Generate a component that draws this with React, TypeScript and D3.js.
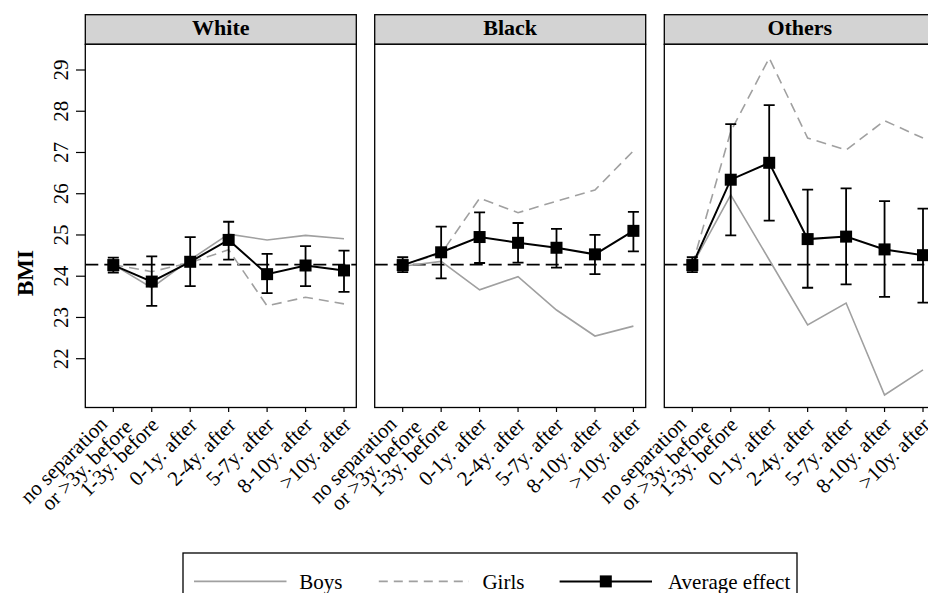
import React from "react";
import * as d3 from "d3";

const categories: string[][] = [
  ["no separation", "or >3y. before"],
  ["1-3y. before"],
  ["0-1y. after"],
  ["2-4y. after"],
  ["5-7y. after"],
  ["8-10y. after"],
  [">10y. after"],
];

const groups = ["White", "Black", "Others"];

const whiteAvg = [24.27, 23.87, 24.35, 24.88, 24.05, 24.26, 24.14];
const whiteLo = [24.09, 23.28, 23.76, 24.4, 23.59, 23.76, 23.62];
const whiteHi = [24.45, 24.48, 24.95, 25.32, 24.54, 24.73, 24.62];
const whiteBoys = [24.28, 23.72, 24.4, 25.02, 24.88, 24.99, 24.91];
const whiteGirls = [24.28, 24.11, 24.33, 24.64, 23.28, 23.49, 23.33];

const blackAvg = [24.27, 24.58, 24.95, 24.81, 24.69, 24.53, 25.1];
const blackLo = [24.1, 23.95, 24.32, 24.33, 24.21, 24.05, 24.6];
const blackHi = [24.46, 25.2, 25.55, 25.29, 25.15, 25.0, 25.56];
const blackBoys = [24.24, 24.36, 23.67, 23.99, 23.18, 22.55, 22.79];
const blackGirls = [24.27, 24.55, 25.89, 25.54, 25.82, 26.09, 27.04];

const othersAvg = [24.27, 26.34, 26.75, 24.9, 24.96, 24.65, 24.51];
const othersLo = [24.1, 24.99, 25.35, 23.72, 23.8, 23.5, 23.36];
const othersHi = [24.46, 27.69, 28.15, 26.1, 26.13, 25.82, 25.64];
const othersBoys = [24.27, 25.97, 24.4, 22.82, 23.35, 21.12, 21.73];
const othersGirls = [24.27, 27.51, 29.29, 27.35, 27.06, 27.77, 27.35];

const refValue = 24.28;
const yTicks = [22, 23, 24, 25, 26, 27, 28, 29];

const avgSeries = [whiteAvg, blackAvg, othersAvg];
const loSeries = [whiteLo, blackLo, othersLo];
const hiSeries = [whiteHi, blackHi, othersHi];
const boysSeries = [whiteBoys, blackBoys, othersBoys];
const girlsSeries = [whiteGirls, blackGirls, othersGirls];

const W = 928;
const H = 593;
const panelLefts = [85.3, 374.7, 664.3];
const panelW = 271;
const headTop = 14.7;
const plotTop = 44.3;
const plotBottom = 407.5;
const FONT = "'Liberation Serif', 'Times New Roman', serif";

const y = d3.scaleLinear().domain([22, 29]).range([358.7, 70]);

export default function App() {
  const lineGen = (xs: d3.ScaleLinear<number, number>) =>
    d3
      .line<number>()
      .x((_, i) => xs(i))
      .y((d) => y(d));

  return (
    <svg
      width={W}
      height={H}
      style={{ position: "absolute", left: 0, top: 0, background: "#fff" }}
      fontFamily={FONT}
    >
      <rect x={0} y={0} width={W} height={H} fill="#fff" />
      {groups.map((g, gi) => {
        const left = panelLefts[gi];
        const x = d3
          .scaleLinear()
          .domain([0, 6])
          .range([left + 28, left + 28 + 6 * 38.45]);
        const lg = lineGen(x);
        const avg = avgSeries[gi];
        const lo = loSeries[gi];
        const hi = hiSeries[gi];
        return (
          <g key={g}>
            <defs>
              <clipPath id={`clip${gi}`}>
                <rect x={left} y={plotTop} width={panelW} height={plotBottom - plotTop} />
              </clipPath>
            </defs>
            <rect
              x={left}
              y={headTop}
              width={panelW}
              height={plotTop - headTop}
              fill="#d3d3d3"
              stroke="#000"
              strokeWidth={1.3}
            />
            <text
              x={left + panelW / 2}
              y={35}
              textAnchor="middle"
              fontWeight="bold"
              fontSize={22}
              fill="#000"
            >
              {g}
            </text>
            <rect
              x={left}
              y={plotTop}
              width={panelW}
              height={plotBottom - plotTop}
              fill="#fff"
              stroke="#000"
              strokeWidth={1.3}
            />
            <g clipPath={`url(#clip${gi})`}>
              <line
                x1={left}
                x2={left + panelW}
                y1={y(refValue)}
                y2={y(refValue)}
                stroke="#000"
                strokeWidth={1.6}
                strokeDasharray="13,6"
              />
              <path d={lg(boysSeries[gi]) || ""} fill="none" stroke="#a0a0a0" strokeWidth={1.6} />
              <path
                d={lg(girlsSeries[gi]) || ""}
                fill="none"
                stroke="#a0a0a0"
                strokeWidth={1.6}
                strokeDasharray="10,6"
              />
              {avg.map((_, i) => (
                <g key={i} stroke="#000" strokeWidth={1.8}>
                  <line x1={x(i)} x2={x(i)} y1={y(lo[i])} y2={y(hi[i])} />
                  <line x1={x(i) - 5.5} x2={x(i) + 5.5} y1={y(lo[i])} y2={y(lo[i])} />
                  <line x1={x(i) - 5.5} x2={x(i) + 5.5} y1={y(hi[i])} y2={y(hi[i])} />
                </g>
              ))}
              <path d={lg(avg) || ""} fill="none" stroke="#000" strokeWidth={2} />
              {avg.map((v, i) => (
                <rect key={i} x={x(i) - 6} y={y(v) - 6} width={12} height={12} fill="#000" />
              ))}
            </g>
            {categories.map((c, i) => (
              <g key={i}>
                <line x1={x(i)} x2={x(i)} y1={plotBottom} y2={plotBottom + 4.5} stroke="#000" strokeWidth={1.2} />
                <g transform={`translate(${x(i) + 3},421) rotate(-45)`}>
                  {c.length === 1 ? (
                    <text textAnchor="end" fontSize={21} dy="0.35em" fill="#000">
                      {c[0]}
                    </text>
                  ) : (
                    <>
                      <text textAnchor="end" fontSize={21} x={-8.5} y={-9.9} dy="0.35em" fill="#000">
                        {c[0]}
                      </text>
                      <text textAnchor="end" fontSize={21} x={7.1} y={9.9} dy="0.35em" fill="#000">
                        {c[1]}
                      </text>
                    </>
                  )}
                </g>
              </g>
            ))}
            {gi === 0 &&
              yTicks.map((t) => (
                <g key={t}>
                  <line x1={76} x2={left} y1={y(t)} y2={y(t)} stroke="#000" strokeWidth={1.2} />
                  <text
                    transform={`translate(68.3,${y(t)}) rotate(-90)`}
                    textAnchor="middle"
                    fontSize={21}
                    fill="#000"
                  >
                    {t}
                  </text>
                </g>
              ))}
          </g>
        );
      })}
      <text
        transform={`translate(33.3,273) rotate(-90)`}
        textAnchor="middle"
        fontSize={23}
        fontWeight="bold"
        fill="#000"
      >
        BMI
      </text>
      <rect x={183} y={553} width={614} height={60} fill="#fff" stroke="#000" strokeWidth={1.3} />
      <line x1={194} x2={286.5} y1={581.4} y2={581.4} stroke="#a0a0a0" strokeWidth={1.6} />
      <text x={299.3} y={581.4} dy="0.35em" fontSize={21} fill="#000">
        Boys
      </text>
      <line x1={378.8} x2={469} y1={581.4} y2={581.4} stroke="#a0a0a0" strokeWidth={1.6} strokeDasharray="9,6" />
      <text x={482.4} y={581.4} dy="0.35em" fontSize={21} fill="#000">
        Girls
      </text>
      <line x1={559.6} x2={652} y1={581.4} y2={581.4} stroke="#000" strokeWidth={2} />
      <rect x={605.8 - 6} y={581.4 - 6} width={12} height={12} fill="#000" />
      <text x={668} y={581.4} dy="0.35em" fontSize={21} fill="#000">
        Average effect
      </text>
    </svg>
  );
}
